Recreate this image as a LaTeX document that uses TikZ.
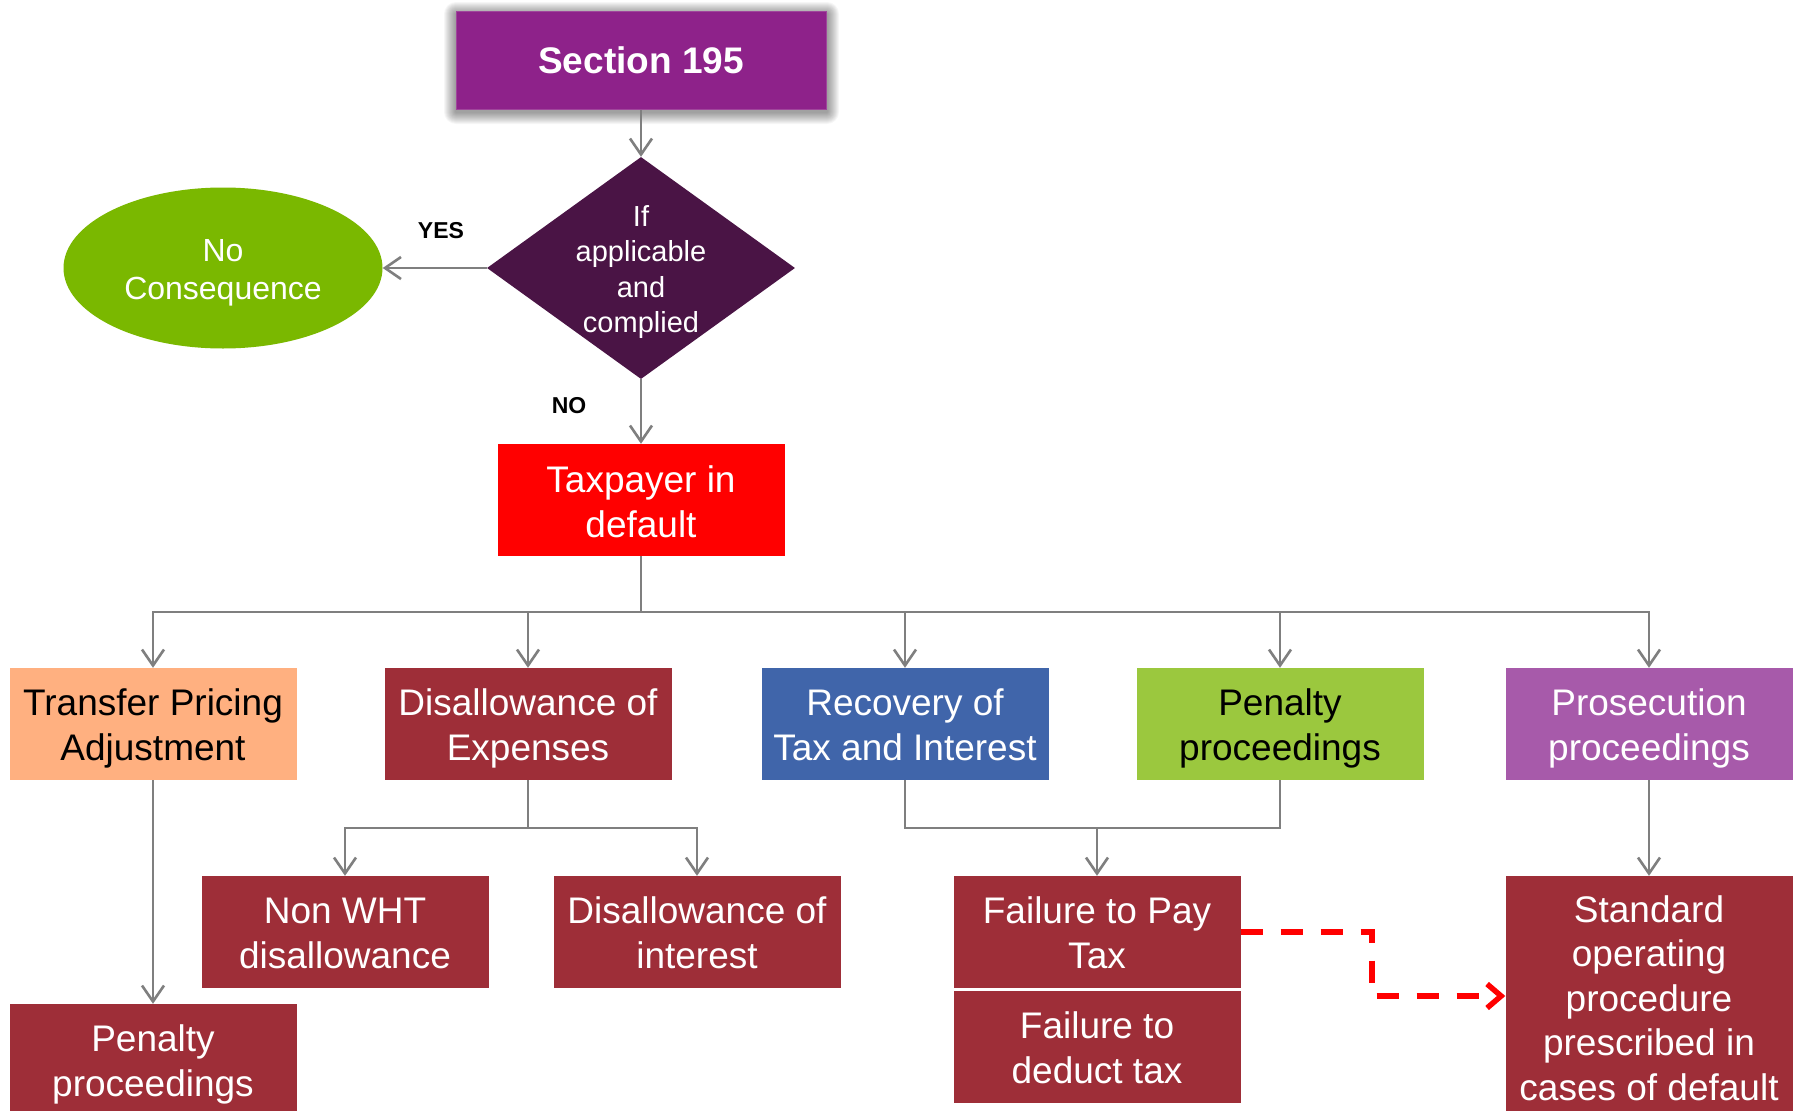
\documentclass[tikz,border=0pt]{standalone}
\usepackage{fontspec}
\setmainfont{Liberation Sans}
\usetikzlibrary{shapes.geometric,arrows.meta}
\definecolor{secpurple}{RGB}{142,34,138}
\definecolor{secedge}{RGB}{160,70,156}
\definecolor{diapurple}{RGB}{74,20,69}
\definecolor{ellgreen}{RGB}{122,184,0}
\definecolor{peach}{RGB}{255,176,128}
\definecolor{darkred}{RGB}{158,46,56}
\definecolor{recblue}{RGB}{64,101,170}
\definecolor{pengreen}{RGB}{155,200,62}
\definecolor{prospurple}{RGB}{167,90,170}
\definecolor{linegray}{RGB}{127,127,127}
\newcommand\cbox[2]{\smash{\makebox[0pt]{\raisebox{#1}{\begin{tabular}{@{}c@{}}#2\end{tabular}}}}}
\begin{document}
\begin{tikzpicture}[x=1pt,y=-1pt,
  boxstyle/.style={rectangle, minimum width=287pt, minimum height=112pt, inner sep=0pt,
    font=\fontsize{37}{44.5}\selectfont, text=white},
  conn/.style={draw=linegray, line width=2.6pt},
  arr/.style={conn, -{Straight Barb[length=16pt,width=22pt]}},
  reddash/.style={draw=red, line width=5.5pt, dash pattern=on 22pt off 18pt,
    -{Straight Barb[length=14pt,width=24pt]}},
  lbl/.style={font=\fontsize{23}{26}\bfseries\selectfont, text=black}
]
\useasboundingbox (0,0) rectangle (1800,1111);
\fill[white] (0,0) rectangle (1800,1111);

% soft glow behind the top box
\foreach \i in {1,...,12}{
  \fill[black, opacity=0.035, rounded corners=\i pt] (456-\i,11-\i+3) rectangle (826+\i+1,109+\i+3);
}
% top section
\node[rectangle, fill=secpurple, draw=secedge, line width=1pt, minimum width=370pt, minimum height=98pt,
  inner sep=0pt, text=white, font=\fontsize{37}{44}\bfseries\selectfont]
  (sec) at (641,60) {Section 195};

\node[diamond, fill=diapurple, minimum width=308pt, minimum height=222pt, inner sep=0pt,
  text=white, font=\fontsize{29}{35.6}\selectfont]
  (dia) at (641,268) {\cbox{-10.5pt}{If\\applicable\\and\\complied}};

\node[ellipse, fill=ellgreen, minimum width=319pt, minimum height=161pt, inner sep=0pt,
  text=white, font=\fontsize{32}{38}\selectfont]
  (ell) at (223,268) {\cbox{-11.5pt}{No\\Consequence}};

\node[boxstyle, fill=red] (tax) at (641,500) {\cbox{-12.5pt}{Taxpayer in\\default}};

\node[lbl] (yes) at (441,231) {YES};
\node[lbl] (no) at (569,406) {NO};

% level 2
\node[boxstyle, fill=peach, text=black] (tp) at (153,724) {\cbox{-11.5pt}{Transfer Pricing\\Adjustment}};
\node[boxstyle, fill=darkred] (exp) at (528,724) {\cbox{-11.5pt}{Disallowance of\\Expenses}};
\node[boxstyle, fill=recblue] (rec) at (905,724) {\cbox{-11.5pt}{Recovery of\\Tax and Interest}};
\node[boxstyle, fill=pengreen, text=black] (pen) at (1280,724) {\cbox{-11.5pt}{Penalty\\proceedings}};
\node[boxstyle, fill=prospurple] (pros) at (1649,724) {\cbox{-11.5pt}{Prosecution\\proceedings}};

% level 3
\node[boxstyle, fill=darkred] (nwht) at (345,932) {\cbox{-11.5pt}{Non WHT\\disallowance}};
\node[boxstyle, fill=darkred] (dint) at (697,932) {\cbox{-11.5pt}{Disallowance of\\interest}};
\node[boxstyle, fill=darkred] (fpay) at (1097,932) {\cbox{-11.5pt}{Failure to Pay\\Tax}};
\node[boxstyle, fill=darkred] (fded) at (1097,1047) {\cbox{-11.5pt}{Failure to\\deduct tax}};
\node[boxstyle, fill=darkred] (pen2) at (153,1060) {\cbox{-11.5pt}{Penalty\\proceedings}};
\node[boxstyle, fill=darkred, minimum height=244pt] (std) at (1649,998)
  {\cbox{-10.5pt}{Standard\\operating\\procedure\\prescribed in\\cases of default}};

% connectors
\coordinate (busy) at (641,612);
\coordinate (expy) at (528,828);
\coordinate (mrg) at (1097,828);
\coordinate (rt) at (1372,996);

\draw[arr] (sec.south) -- (dia.north);
\draw[arr] (dia.west) -- (ell.east);
\draw[arr] (dia.south) -- (tax.north);

\draw[conn] (tax.south) -- (busy);
\draw[arr] (busy) -| (tp.north);
\draw[arr] (busy) -| (exp.north);
\draw[arr] (busy) -| (rec.north);
\draw[arr] (busy) -| (pen.north);
\draw[arr] (busy) -| (pros.north);

\draw[arr] (tp.south) -- (pen2.north);
\draw[conn] (exp.south) -- (expy);
\draw[arr] (expy) -| (nwht.north);
\draw[arr] (expy) -| (dint.north);

\draw[conn] (rec.south) |- (mrg);
\draw[conn] (pen.south) |- (mrg);
\draw[arr] (mrg) -- (fpay.north);

\draw[arr] (pros.south) -- (std.north);

\draw[reddash] (fpay.east) -| (rt) -- (rt -| std.west);
\end{tikzpicture}
\end{document}
